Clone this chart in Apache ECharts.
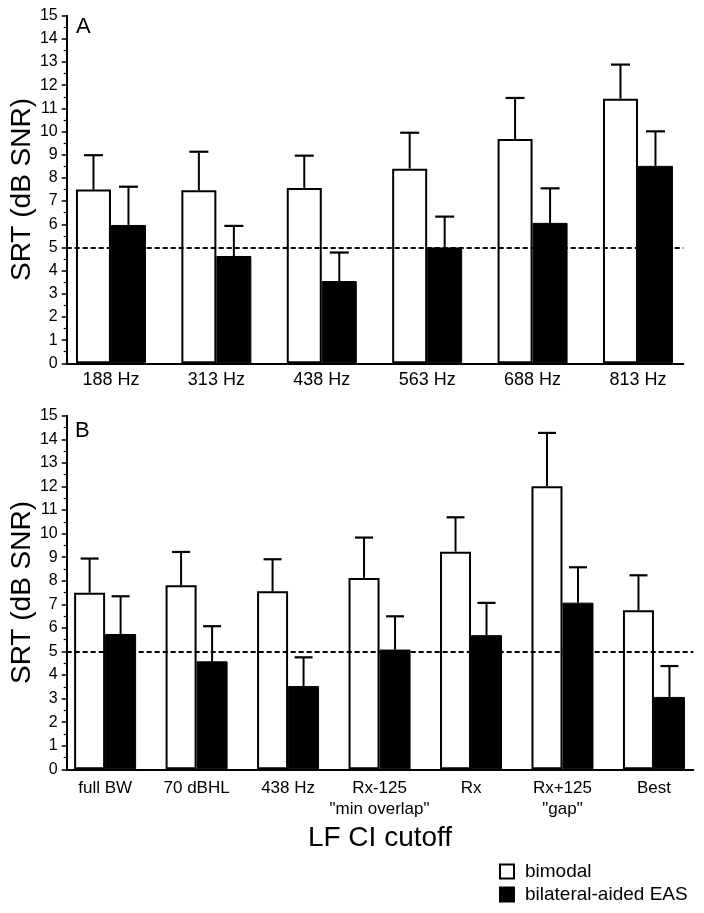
<!DOCTYPE html>
<html><head><meta charset="utf-8">
<script src="https://cdn.jsdelivr.net/npm/echarts@6/dist/echarts.min.js"></script>
<style>html,body{margin:0;padding:0;background:#fff}#c{width:704px;height:913px}</style>
</head><body><div id="c"></div>
<script>
// Panel A
const catsA = ['188 Hz','313 Hz','438 Hz','563 Hz','688 Hz','813 Hz'];
const bimodalA = [7.5, 7.47, 7.57, 8.4, 9.68, 11.42];
const bimodalA_sd = [1.48, 1.66, 1.39, 1.55, 1.77, 1.47];
const easA = [5.97, 4.63, 3.55, 5.0, 6.06, 8.52];
const easA_sd = [1.65, 1.30, 1.23, 1.33, 1.49, 1.49];
// Panel B
const catsB = ['full BW','70 dBHL','438 Hz','Rx-125\n"min overlap"','Rx','Rx+125\n"gap"','Best'];
const bimodalB = [7.49, 7.81, 7.55, 8.12, 9.23, 12.01, 6.75];
const bimodalB_sd = [1.45, 1.41, 1.36, 1.71, 1.46, 2.26, 1.48];
const easB = [5.74, 4.58, 3.53, 5.08, 5.69, 7.07, 3.07];
const easB_sd = [1.60, 1.49, 1.22, 1.41, 1.37, 1.50, 1.31];
const refLine = 5;

const FONT = "'Liberation Sans', Arial, Helvetica, sans-serif";
const chart = echarts.init(document.getElementById('c'), null, {renderer: 'canvas'});

function idx(arr){ return arr.map((v,i)=>[i,v]); }
function errData(m, sd){ return m.map((v,i)=>[i, v, v+sd[i]]); }

function errSeries(name, m, sd, axisIdx, offset, capW){
  return {
    type: 'custom', name: name + '_err', xAxisIndex: axisIdx, yAxisIndex: axisIdx, z: 5,
    data: errData(m, sd),
    renderItem: function(params, api){
      const p0 = api.coord([api.value(0), api.value(1)]);
      const p1 = api.coord([api.value(0), api.value(2)]);
      const x = p0[0] + offset;
      return {type: 'group', children: [
        {type:'line', shape:{x1:x, y1:p0[1], x2:x, y2:p1[1]}, style:{stroke:'#000', lineWidth:2}},
        {type:'line', shape:{x1:x-capW/2, y1:p1[1], x2:x+capW/2, y2:p1[1]}, style:{stroke:'#000', lineWidth:2.2}}
      ]};
    }
  };
}

function yAxisCfg(gridIdx){
  return {
    type:'value', gridIndex: gridIdx, min:0, max:15, interval:1,
    name:'SRT (dB SNR)', nameLocation:'middle', nameGap:30, nameMoveOverlap:false,
    nameTextStyle:{fontSize:28, color:'#000', fontFamily:FONT},
    axisLine:{show:true, onZero:false, lineStyle:{color:'#000', width:2}},
    axisTick:{show:true, length:5, lineStyle:{color:'#000', width:1.5}},
    minorTick:{show:true, splitNumber:2, length:3, lineStyle:{color:'#000', width:1.2}},
    axisLabel:{fontSize:16, color:'#000', fontFamily:FONT, margin:9},
    splitLine:{show:false}
  };
}

function xAxisCfg(gridIdx, cats, mn, mx, fs, margin, extra){
  return Object.assign({
    type:'value', gridIndex:gridIdx, min:mn, max:mx,
    axisLine:{show:true, onZero:false, lineStyle:{color:'#000', width:2}},
    axisTick:{show:false},
    splitLine:{show:false},
    axisLabel:{customValues: cats.map((c,i)=>i), formatter: v => cats[Math.round(v)],
      fontSize:fs, color:'#000', fontFamily:FONT, margin:margin, lineHeight:21, verticalAlign:'top'}
  }, extra || {});
}

const barW_A = 35, barW_B = 31;
const whiteStyle = {color:'#fff', borderColor:'#000', borderWidth:2};
const blackStyle = {color:'#000', borderColor:'#000', borderWidth:1};

const option = {
  animation:false,
  backgroundColor:'#fff',
  textStyle:{fontFamily:FONT},
  grid:[
    {left:66.7, top:15.7, width:616.6, height:347.6, containLabel:false, outerBoundsMode:'none'},
    {left:66.7, top:415.7, width:626.6, height:353.6, containLabel:false, outerBoundsMode:'none'}
  ],
  xAxis:[
    xAxisCfg(0, catsA, -0.42, 5.43, 18, 6),
    xAxisCfg(1, catsB, -0.42, 6.43, 17, 9, {
      name:'LF CI cutoff', nameLocation:'middle', nameGap:55,
      nameTextStyle:{fontSize:28, color:'#000', fontFamily:FONT, verticalAlign:'top'}
    })
  ],
  yAxis:[yAxisCfg(0), yAxisCfg(1)],
  legend:{
    orient:'vertical', left:499, top:862, itemWidth:14, itemHeight:14, itemGap:4, padding:0,
    icon:'rect',
    textStyle:{fontSize:19, color:'#000', fontFamily:FONT, padding:[0,0,0,6], lineHeight:18},
    data:['bimodal','bilateral-aided EAS']
  },
  graphic:[
    {type:'text', left:76, top:16, style:{text:'A', fontSize:22, fill:'#000', fontFamily:FONT}},
    {type:'text', left:75, top:420, style:{text:'B', fontSize:22, fill:'#000', fontFamily:FONT}}
  ],
  series:[
    {type:'bar', name:'bimodal', xAxisIndex:0, yAxisIndex:0, data:idx(bimodalA), barWidth:barW_A, barGap:'0%', itemStyle:whiteStyle},
    {type:'bar', name:'bilateral-aided EAS', xAxisIndex:0, yAxisIndex:0, data:idx(easA), barWidth:barW_A, barGap:'0%', itemStyle:blackStyle},
    {type:'bar', name:'bimodal', xAxisIndex:1, yAxisIndex:1, data:idx(bimodalB), barWidth:barW_B, barGap:'0%', itemStyle:whiteStyle},
    {type:'bar', name:'bilateral-aided EAS', xAxisIndex:1, yAxisIndex:1, data:idx(easB), barWidth:barW_B, barGap:'0%', itemStyle:blackStyle},
    errSeries('bimodal', bimodalA, bimodalA_sd, 0, -barW_A/2, 19),
    errSeries('bilateral-aided EAS', easA, easA_sd, 0, barW_A/2, 19),
    errSeries('bimodal', bimodalB, bimodalB_sd, 1, -barW_B/2, 18),
    errSeries('bilateral-aided EAS', easB, easB_sd, 1, barW_B/2, 18),
    {type:'line', name:'refA', xAxisIndex:0, yAxisIndex:0, data:[], z:10,
      markLine:{silent:true, symbol:['none','none'], label:{show:false},
        lineStyle:{color:'#000', width:2, type:[5,3]}, data:[{yAxis:refLine}]}},
    {type:'line', name:'refB', xAxisIndex:1, yAxisIndex:1, data:[], z:10,
      markLine:{silent:true, symbol:['none','none'], label:{show:false},
        lineStyle:{color:'#000', width:2, type:[5,3]}, data:[{yAxis:refLine}]}}
  ]
};
chart.setOption(option);
</script></body></html>
